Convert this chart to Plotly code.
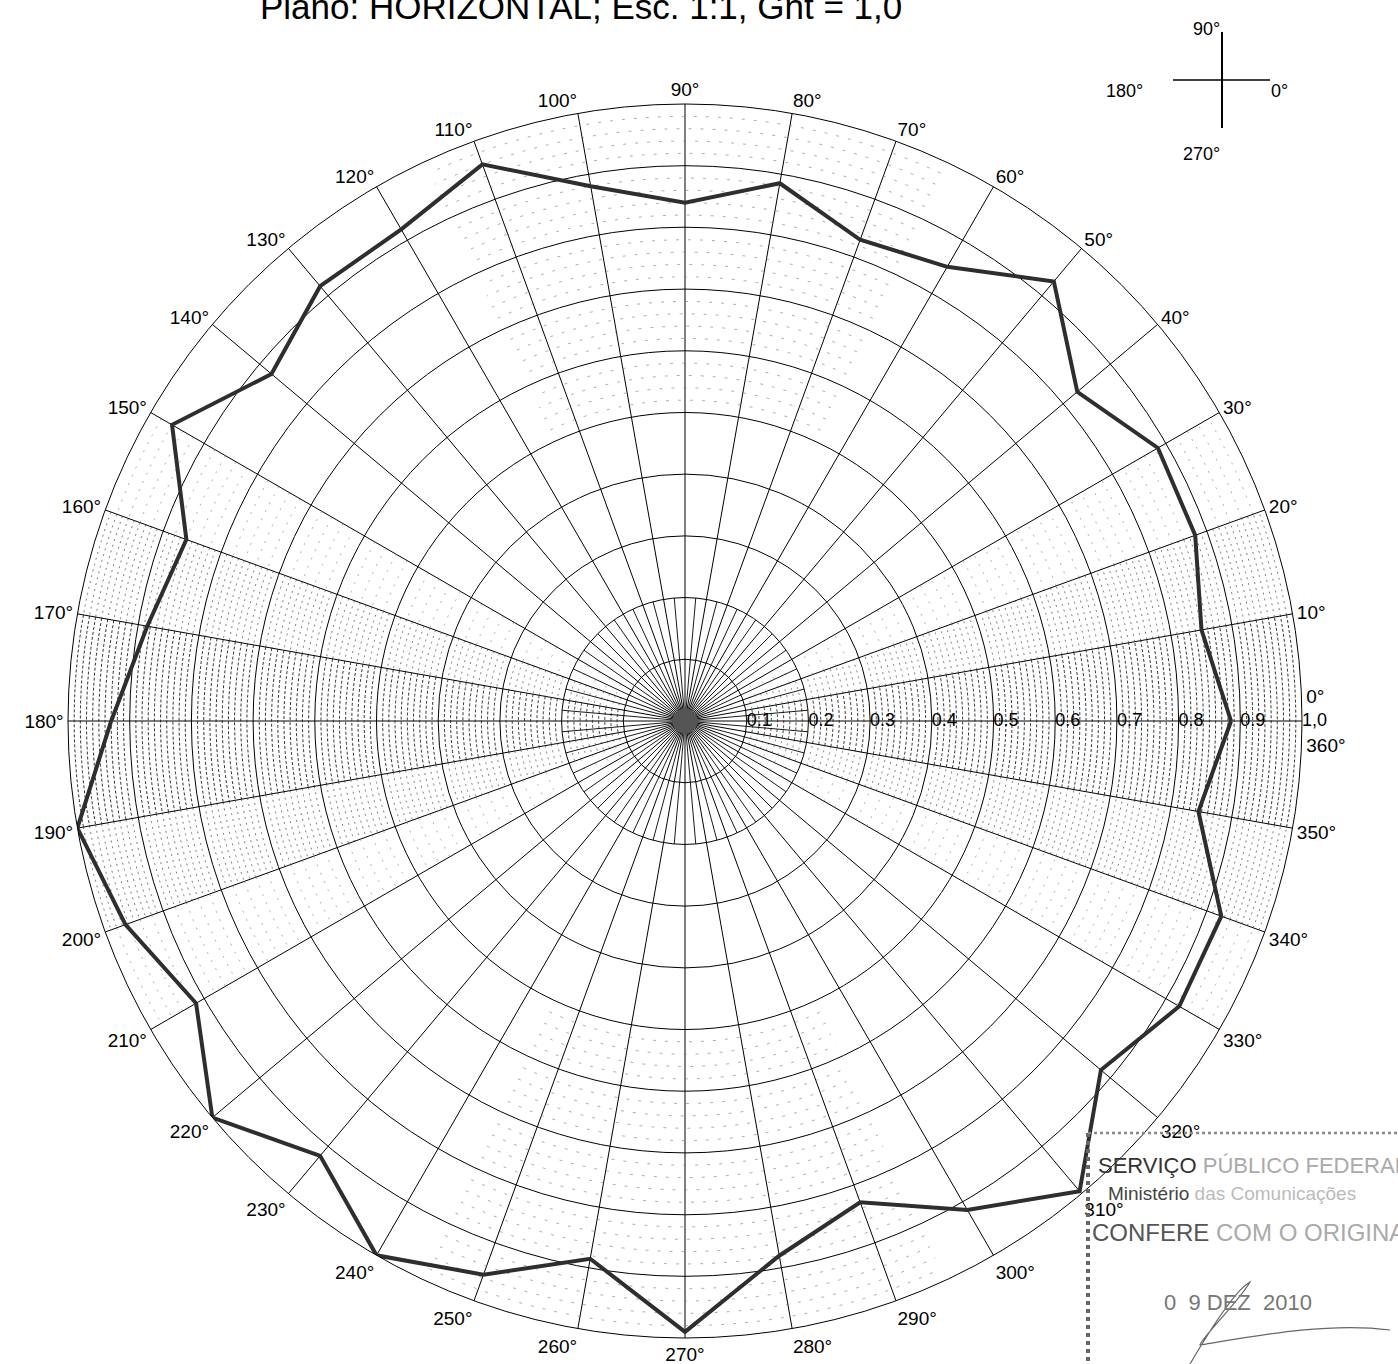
import numpy as np
import plotly.graph_objects as go

# Horizontal-plane radiation pattern, relative field (linear scale 0..1)
angles = list(range(0, 360, 10))
field = [0.885, 0.85, 0.88, 0.885, 0.83, 0.93, 0.85, 0.83, 0.885, 0.84,
         0.88, 0.96, 0.92, 0.92, 0.875, 0.96, 0.86, 0.885, 0.93, 1.0,
         0.965, 0.915, 1.0, 0.92, 1.0, 0.955, 0.885, 0.99, 0.88, 0.83,
         0.915, 0.995, 0.88, 0.925, 0.925, 0.845]

radial_ticks = [0.1, 0.2, 0.3, 0.4, 0.5, 0.6, 0.7, 0.8, 0.9]
radial_labels = ["0.1", "0.2", "0.3", "0.4", "0.5", "0.6", "0.7", "0.8", "0.9"]
angle_ticks = list(range(0, 360, 10))
angle_labels = ["0°<br> <br>360°"] + [f"{a}°" for a in angle_ticks[1:]]

title_text = "Plano: HORIZONTAL; Esc. 1:1, Gnt = 1,0"
FONT = "Liberation Sans, Arial, sans-serif"


def arcs(radii, t0, t1):
    """Concentric arc segments joined with gaps, for the fine chart-paper ruling."""
    rr, tt = [], []
    th = np.linspace(t0, t1, 40)
    for r in radii:
        rr += [r] * len(th) + [None]
        tt += list(th) + [None]
    return rr, tt


def spokes(thetas, r0, r1):
    rr, tt = [], []
    for t in thetas:
        rr += [r0, r1, None]
        tt += [t, t, None]
    return rr, tt


fig = go.Figure()

# fine ruling: dense around the horizontal axis, sparser further out
fine = [round(0.1 + 0.01 * i, 2) for i in range(1, 90) if i % 10 != 0]
mid = [round(0.1 + 0.02 * i, 2) for i in range(1, 45) if (2 * i) % 10 != 0]
for (t0, t1) in [(-10, 10), (170, 190)]:
    r, t = arcs(fine, t0, t1)
    fig.add_trace(go.Scatterpolar(r=r, theta=t, mode="lines",
                                  line=dict(color="#1e1e1e", width=0.9, dash="3px,2px"),
                                  hoverinfo="skip", showlegend=False))
for (t0, t1) in [(10, 20), (-20, -10), (160, 170), (190, 200)]:
    r, t = arcs(fine, t0, t1)
    fig.add_trace(go.Scatterpolar(r=r, theta=t, mode="lines",
                                  line=dict(color="#444", width=0.7, dash="2px,4px"),
                                  hoverinfo="skip", showlegend=False))
for (t0, t1) in [(20, 30), (-30, -20), (150, 160), (200, 210)]:
    r, t = arcs(mid, t0, t1)
    fig.add_trace(go.Scatterpolar(r=r, theta=t, mode="lines",
                                  line=dict(color="#777", width=0.6, dash="2px,7px"),
                                  hoverinfo="skip", showlegend=False))
for (t0, t1) in [(65, 115), (245, 295)]:
    r, t = arcs([round(0.5 + 0.02 * i, 2) for i in range(1, 25) if (2 * i) % 10 != 0], t0, t1)
    fig.add_trace(go.Scatterpolar(r=r, theta=t, mode="lines",
                                  line=dict(color="#777", width=0.6, dash="3px,9px"),
                                  hoverinfo="skip", showlegend=False))

# extra 5-degree spokes near the pole
r, t = spokes(list(range(5, 360, 10)), 0.0, 0.2)
fig.add_trace(go.Scatterpolar(r=r, theta=t, mode="lines",
                              line=dict(color="black", width=0.9),
                              hoverinfo="skip", showlegend=False))
# dark hub at the pole
fig.add_trace(go.Scatterpolar(r=[0], theta=[0], mode="markers",
                              marker=dict(size=24, color="#555"),
                              hoverinfo="skip", showlegend=False))

# the measured pattern
fig.add_trace(go.Scatterpolar(r=field + field[:1], theta=angles + angles[:1],
                              mode="lines", line=dict(color="#2e2e2e", width=4),
                              hoverinfo="skip", showlegend=False))

# radial scale labels along the 0 deg spoke
fig.add_trace(go.Scatterpolar(r=radial_ticks, theta=[0] * len(radial_ticks),
                              mode="text", text=radial_labels, textposition="middle right",
                              textfont=dict(family=FONT, size=18, color="black"),
                              cliponaxis=False, hoverinfo="skip", showlegend=False))
fig.add_trace(go.Scatterpolar(r=[1.0], theta=[0], mode="text",
                              text=["1,0"], textposition="middle right",
                              textfont=dict(family=FONT, size=18, color="black"),
                              cliponaxis=False, hoverinfo="skip", showlegend=False))

W, H = 1398, 1364
cx, cy, R = 685, 721, 617
fig.update_layout(
    width=W, height=H,
    margin=dict(l=0, r=0, t=0, b=0),
    paper_bgcolor="white",
    font=dict(family=FONT, color="black"),
    polar=dict(
        domain=dict(x=[(cx - R) / W, (cx + R) / W], y=[(H - cy - R) / H, (H - cy + R) / H]),
        bgcolor="white",
        radialaxis=dict(range=[0, 1], tickvals=radial_ticks + [1.0], showticklabels=False,
                        ticks="", showline=False, gridcolor="black", gridwidth=1),
        angularaxis=dict(rotation=0, direction="counterclockwise",
                         tickmode="array", tickvals=angle_ticks, ticktext=angle_labels,
                         tickfont=dict(family=FONT, size=19, color="black"),
                         ticks="", showline=True, linecolor="black", linewidth=1,
                         gridcolor="black", gridwidth=1),
    ),
)

# cut-off header line
fig.add_annotation(x=581 / W, y=1 - 28 / H, xref="paper", yref="paper",
                   xanchor="center", yanchor="bottom", showarrow=False,
                   text=title_text, font=dict(family=FONT, size=35, color="black"))

# orientation key (top right)
kx, ky = 1222, 80
fig.add_shape(type="line", xref="paper", yref="paper",
              x0=kx / W, x1=kx / W, y0=1 - 32 / H, y1=1 - 128 / H,
              line=dict(color="black", width=2))
fig.add_shape(type="line", xref="paper", yref="paper",
              x0=1173 / W, x1=1270 / W, y0=1 - ky / H, y1=1 - ky / H,
              line=dict(color="black", width=1.6))
for txt, x, y in [("90°", 1222, 17), ("180°", 1145, 79), ("0°", 1290, 79), ("270°", 1222, 142)]:
    fig.add_annotation(x=x / W, y=1 - y / H, xref="paper", yref="paper", showarrow=False,
                       text=txt, font=dict(family=FONT, size=18, color="black"))

# certification stamp (bottom right)
fig.add_shape(type="line", xref="paper", yref="paper",
              x0=1088 / W, x1=1088 / W, y0=1 - 1133 / H, y1=0,
              line=dict(color="#666", width=4, dash="dot"))
fig.add_shape(type="line", xref="paper", yref="paper",
              x0=1088 / W, x1=1.0, y0=1 - 1133 / H, y1=1 - 1133 / H,
              line=dict(color="#888", width=2.5, dash="dot"))
stamp = [
    ("SERVIÇO <span style='color:#aaa'>PÚBLICO FEDERAL</span>", 1096, 1165, 22, "#333"),
    ("Ministério <span style='color:#bbb'>das Comunicações</span>", 1106, 1193, 19, "#444"),
    ("CONFERE <span style='color:#aaa'>COM O ORIGINAL</span>", 1090, 1232, 24, "#555"),
    ("0  9 DEZ  2010", 1162, 1302, 22, "#777"),
]
for txt, x, y, size, col in stamp:
    fig.add_annotation(x=x / W, y=1 - y / H, xref="paper", yref="paper", showarrow=False,
                       xanchor="left", yanchor="middle", text=txt,
                       font=dict(family=FONT, size=size, color=col))
fig.add_shape(type="path", xref="paper", yref="paper",
              path=(f"M {1190 / W} {1 - 1364 / H} "
                    f"C {1210 / W} {1 - 1330 / H}, {1235 / W} {1 - 1290 / H}, {1250 / W} {1 - 1282 / H} "
                    f"C {1240 / W} {1 - 1300 / H}, {1200 / W} {1 - 1340 / H}, {1200 / W} {1 - 1345 / H} "
                    f"C {1260 / W} {1 - 1335 / H}, {1330 / W} {1 - 1322 / H}, {1390 / W} {1 - 1330 / H}"),
              line=dict(color="#666", width=1.2))

fig.write_html("out.html")
